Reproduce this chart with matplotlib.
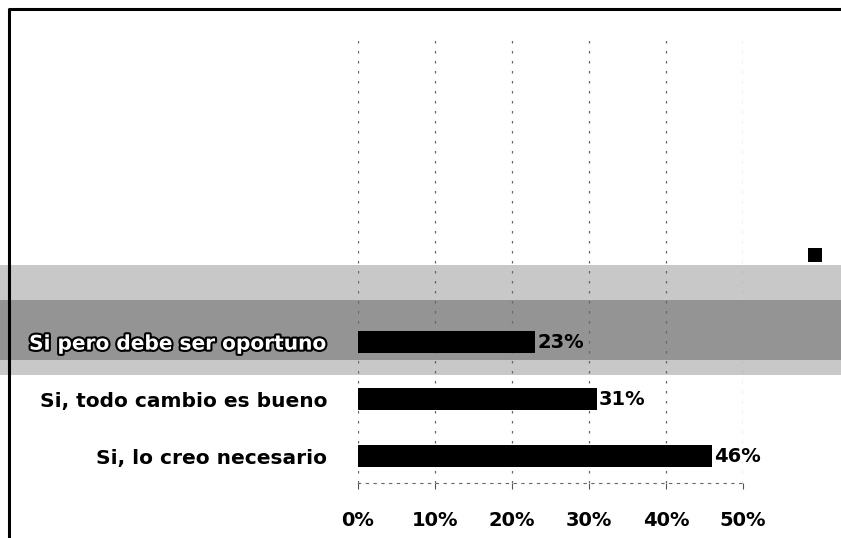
import matplotlib
matplotlib.use("Agg")
import matplotlib.pyplot as plt
import matplotlib.patheffects as pe
from matplotlib.patches import Rectangle

categorias = ["Si, lo creo necesario", "Si, todo cambio es bueno", "Si pero debe ser oportuno"]
valores = [46, 31, 23]
ticks = [0, 10, 20, 30, 40, 50]
tick_labels = ["0%", "10%", "20%", "30%", "40%", "50%"]

fig = plt.figure(figsize=(8.41, 5.38), dpi=100)
fig.patch.set_facecolor("white")

# fondo: banda gris (ruido del escaneo) detrás de la barra superior
bg = fig.add_axes([0, 0, 1, 1], zorder=-1)
bg.set_xlim(0, 841)
bg.set_ylim(538, 0)
bg.axis("off")
bg.add_patch(Rectangle((0, 265), 841, 110, facecolor="#c8c8c8", edgecolor="none"))
bg.add_patch(Rectangle((0, 300), 841, 60, facecolor="#949494", edgecolor="none"))
# marco (izquierda y arriba)
bg.plot([9, 9, 841], [538, 9, 9], color="black", linewidth=2.2)
# cuadro de leyenda
bg.add_patch(Rectangle((808, 248), 14, 14, facecolor="black", edgecolor="none"))

ax = fig.add_axes([358 / 841, 1 - 483 / 538, (743 - 358) / 841, (483 - 33) / 538])
ax.patch.set_alpha(0)

pos = list(range(len(categorias)))
ax.barh(pos, valores, height=0.39, color="black", zorder=3)

for p, v in zip(pos, valores):
    ax.text(v + 0.3, p, f"{v}%", va="center", ha="left", fontsize=14, fontweight="bold",
            color="black", zorder=4)

ax.set_xlim(0, 50)
ax.set_ylim(-0.47, 7.42)
ax.set_xticks(ticks)
ax.set_xticklabels(tick_labels, fontsize=14, fontweight="bold")
ax.set_yticks(pos)
ax.set_yticklabels(categorias, fontsize=14.5, fontweight="bold")
ax.tick_params(axis="y", length=0, pad=22)
ax.tick_params(axis="x", length=4, pad=16, color="#555555")

lbl = ax.get_yticklabels()[2]
lbl.set_color("white")
lbl.set_path_effects([pe.withStroke(linewidth=3, foreground="black")])

for t in ticks:
    ax.axvline(t, color="#666666", linestyle=(0, (2, 6)), linewidth=0.9, zorder=1)

for s in ["top", "right", "left"]:
    ax.spines[s].set_visible(False)
ax.spines["bottom"].set_linestyle((0, (2, 5)))
ax.spines["bottom"].set_color("#666666")

fig.savefig("out.png", dpi=100)
